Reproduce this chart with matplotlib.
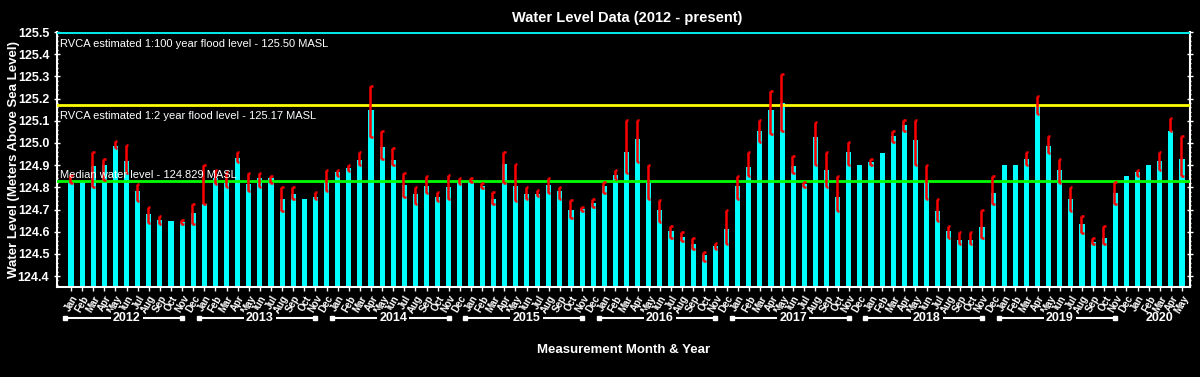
import numpy as np
import matplotlib
matplotlib.use("Agg")
import matplotlib.pyplot as plt
import matplotlib.transforms as mtransforms
from matplotlib.ticker import MultipleLocator

plt.rcParams['font.family'] = ['Liberation Sans', 'DejaVu Sans']

month_names = ["Jan", "Feb", "Mar", "Apr", "May", "Jun",
               "Jul", "Aug", "Sep", "Oct", "Nov", "Dec"]
years = [2012, 2013, 2014, 2015, 2016, 2017, 2018, 2019, 2020]
months = month_names * 8 + month_names[:5]

# mean monthly level (m)
level = [
    124.83, 124.83, 124.896, 124.90, 124.986, 124.92, 124.783, 124.679, 124.652, 124.648, 124.643, 124.684,
    124.723, 124.84, 124.82, 124.932, 124.815, 124.842, 124.842, 124.747, 124.768, 124.747, 124.756, 124.822,
    124.869, 124.887, 124.923, 125.148, 124.98, 124.923, 124.81, 124.77, 124.806, 124.757, 124.801, 124.825,
    124.825, 124.806, 124.747, 124.905, 124.806, 124.77, 124.77, 124.81, 124.783, 124.697, 124.702, 124.729,
    124.806, 124.855, 124.959, 125.018, 124.83, 124.697, 124.603, 124.576, 124.544, 124.495, 124.535, 124.612,
    124.806, 124.891, 125.054, 125.148, 125.18, 124.896, 124.815, 125.027, 124.878, 124.756, 124.959, 124.90,
    124.914, 124.954, 125.031, 125.081, 125.013, 124.824, 124.693, 124.603, 124.562, 124.562, 124.621, 124.774,
    124.90, 124.90, 124.927, 125.166, 124.986, 124.878, 124.747, 124.634, 124.553, 124.571, 124.774, 124.851,
    124.869, 124.90, 124.918, 125.054, 124.927,
]

nan = np.nan
# monthly min / max readings
level_min = [
    124.82, nan, 124.80, 124.833, 124.976, 124.863, 124.737, 124.64, 124.633, nan, 124.633, 124.633,
    124.723, 124.815, 124.80, 124.913, 124.785, 124.80, 124.82, 124.694, 124.747, nan, 124.747, 124.785,
    124.851, 124.875, 124.899, 125.028, 124.926, 124.899, 124.757, 124.725, 124.774, 124.737, 124.746, 124.813,
    124.822, 124.798, 124.723, 124.82, 124.737, 124.746, 124.759, 124.773, 124.746, 124.66, 124.694, 124.711,
    124.773, 124.837, 124.863, 124.914, 124.746, 124.645, 124.57, 124.558, 124.52, 124.466, 124.52, 124.543,
    124.747, 124.849, 125.003, 125.039, 125.052, 124.863, 124.80, 124.899, 124.80, 124.694, 124.899, nan,
    124.899, nan, 125.003, 125.052, 124.899, 124.746, 124.647, 124.57, 124.543, 124.543, 124.57, 124.723,
    nan, nan, 124.899, 125.13, 124.953, 124.82, 124.694, 124.592, 124.543, 124.543, 124.723, nan,
    124.849, nan, 124.876, 125.052, 124.849,
]
level_max = [
    124.855, nan, 124.958, 124.929, 125.007, 124.992, 124.816, 124.712, 124.672, nan, 124.651, 124.726,
    124.902, 124.88, 124.867, 124.958, 124.866, 124.866, 124.852, 124.803, 124.803, nan, 124.777, 124.88,
    124.88, 124.902, 124.958, 125.258, 125.052, 124.978, 124.866, 124.803, 124.852, 124.777, 124.854, 124.84,
    124.84, 124.818, 124.777, 124.958, 124.904, 124.803, 124.789, 124.84, 124.803, 124.741, 124.712, 124.749,
    124.825, 124.879, 125.105, 125.105, 124.902, 124.741, 124.624, 124.597, 124.573, 124.509, 124.547, 124.699,
    124.852, 124.958, 125.105, 125.235, 125.312, 124.942, 124.825, 125.096, 124.958, 124.852, 125.005, nan,
    124.929, nan, 125.055, 125.105, 125.105, 124.902, 124.749, 124.624, 124.597, 124.597, 124.699, 124.852,
    nan, nan, 124.958, 125.21, 125.032, 124.929, 124.803, 124.672, 124.573, 124.624, 124.825, nan,
    124.876, nan, 124.958, 125.111, 125.032,
]

flood_100 = 125.50
flood_2 = 125.17
median_level = 124.829

x = np.arange(len(level))
lo = np.array(level_min)
hi = np.array(level_max)

fig = plt.figure(figsize=(12, 3.77), dpi=100, facecolor="black")
ax = fig.add_axes([0.0475, 0.2395, 0.9442, 0.6755], facecolor="black")

ax.bar(x, np.array(level) - 124.3, bottom=124.3, width=0.46, color="#00FFFF", zorder=2)

ax.axhline(flood_100, color="#00E5E5", lw=2.2, zorder=3)
ax.axhline(flood_2, color="#FFFF00", lw=2, zorder=3)
ax.axhline(median_level, color="#00FF00", lw=2, zorder=3)

# bracket-style range markers
ok = ~np.isnan(lo)
xv = x[ok] - 0.08
ax.vlines(xv, lo[ok], hi[ok], color="red", lw=1.8, zorder=4)
ax.hlines(lo[ok], xv, xv + 0.22, color="red", lw=1.8, zorder=4)
ax.hlines(hi[ok], xv, xv + 0.22, color="red", lw=1.8, zorder=4)

ax.text(0.003, 0.955, "RVCA estimated 1:100 year flood level - 125.50 MASL",
        transform=ax.transAxes, color="white", fontsize=8, va="center", ha="left", zorder=5)
ax.text(0.003, 0.672, "RVCA estimated 1:2 year flood level - 125.17 MASL",
        transform=ax.transAxes, color="white", fontsize=8, va="center", ha="left", zorder=5)
ax.text(0.003, 0.437, "Median water level - 124.829 MASL",
        transform=ax.transAxes, color="white", fontsize=8, va="center", ha="left", zorder=5)

ax.set_xlim(-1.26, 100.72)
ax.set_ylim(124.352, 125.5)

ax.set_xticks(x)
ax.set_xticklabels(months, rotation=60, ha="right", va="top", rotation_mode="anchor",
                   fontsize=7, fontweight="bold", color="white")
ax.tick_params(axis="x", colors="white", length=3, width=1, pad=2)

ax.yaxis.set_minor_locator(MultipleLocator(0.02))
ax.set_yticks(np.arange(124.4, 125.51, 0.1))
ax.set_yticklabels([f"{v:.1f}" for v in np.arange(124.4, 125.51, 0.1)],
                   fontsize=9, fontweight="bold", color="white")
ax.tick_params(axis="y", which="major", colors="white", length=4, width=1, direction="out")
ax.tick_params(axis="y", which="minor", colors="white", length=2, width=1, direction="out")
ax.tick_params(axis="y", which="both", right=True, direction="inout")

for s in ["left", "right", "bottom"]:
    ax.spines[s].set_color("white")
    ax.spines[s].set_linewidth(1.5)
ax.spines["top"].set_visible(False)

# year groupings below month labels
trans = mtransforms.blended_transform_factory(ax.transData, ax.transAxes)
yl = -0.122
for k, yr in enumerate(years):
    start = k * 12
    end = min(start + 11, len(level) - 1)
    if end - start == 11:
        ax.plot([start - 0.5, end - 1.0], [yl, yl], color="white", lw=1.5,
                transform=trans, clip_on=False, marker="s", markersize=3.5,
                markevery=[0, 1])
        cx = (start + end) / 2 - 0.5
        ax.text(cx, yl, str(yr), transform=trans, ha="center", va="center",
                color="white", fontsize=9, fontweight="bold",
                bbox=dict(facecolor="black", edgecolor="none", pad=1.5))
    else:
        ax.text((start + end) / 2, yl, str(yr), transform=trans, ha="center", va="center",
                color="white", fontsize=9, fontweight="bold")

ax.set_xlabel("Measurement Month & Year", color="white", fontsize=9.5, fontweight="bold")
ax.xaxis.set_label_coords(0.5, -0.225)
ax.set_ylabel("Water Level (Meters Above Sea Level)", color="white", fontsize=9.5, fontweight="bold")
ax.yaxis.set_label_coords(-0.033, 0.5)

fig.suptitle("Water Level Data (2012 - present)", color="white", fontsize=10.5,
             fontweight="bold", x=0.523, y=0.97)

fig.savefig("out.png", dpi=100, facecolor="black")
